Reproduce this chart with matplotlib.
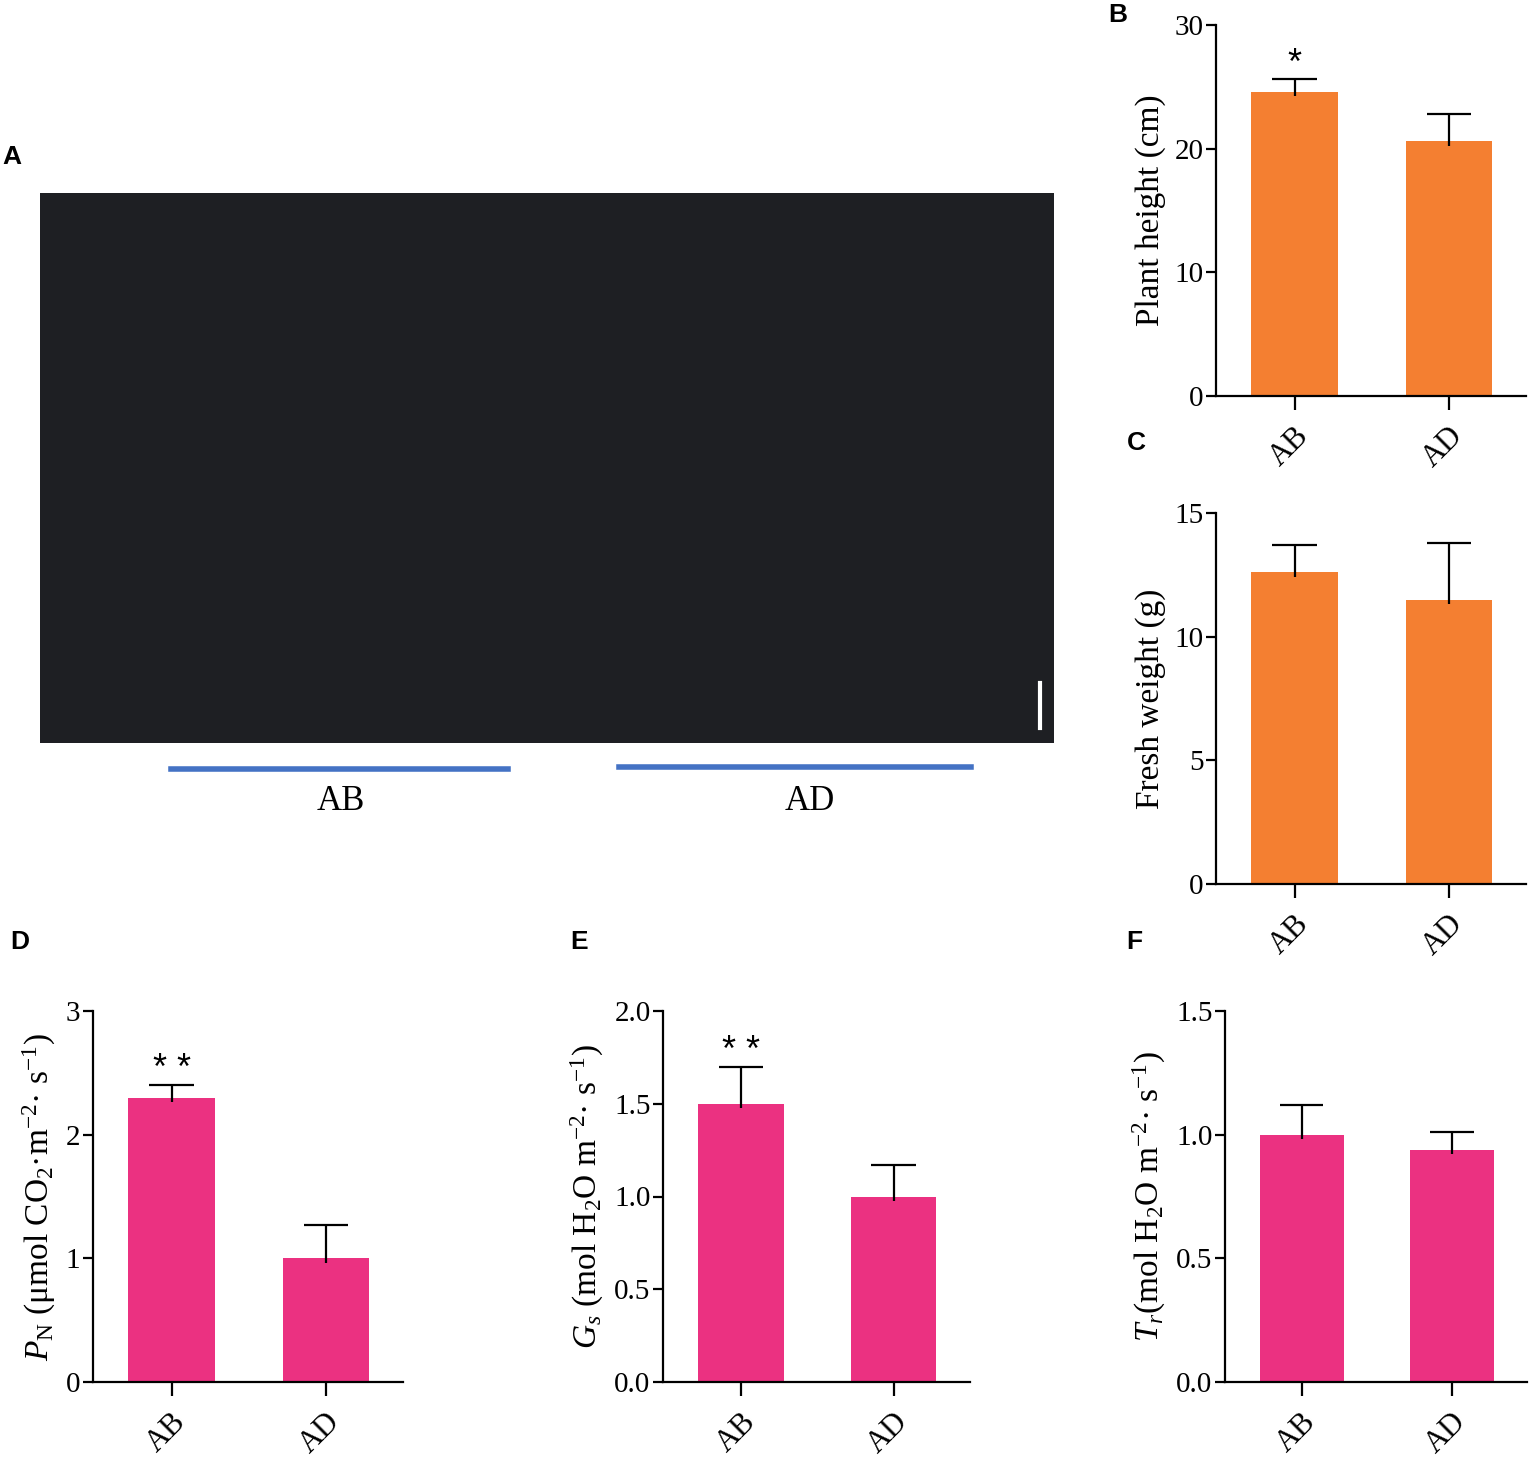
import matplotlib
matplotlib.use('Agg')
import matplotlib.pyplot as plt
from matplotlib.patches import Rectangle
from matplotlib.lines import Line2D
import numpy as np

plt.rcParams['font.family'] = ['Liberation Serif', 'DejaVu Serif']
plt.rcParams['mathtext.fontset'] = 'custom'
plt.rcParams['mathtext.rm'] = 'Liberation Serif'
plt.rcParams['mathtext.it'] = 'Liberation Serif:italic'
plt.rcParams['mathtext.bf'] = 'Liberation Serif:bold'

# data
groups = ['AB', 'AD']

height_mean = [24.6, 20.6]
height_err = [1.0, 2.2]

weight_mean = [12.6, 11.5]
weight_err = [1.1, 2.3]

pn_mean = [2.3, 1.0]
pn_err = [0.1, 0.27]

gs_mean = [1.5, 1.0]
gs_err = [0.2, 0.17]

tr_mean = [1.0, 0.94]
tr_err = [0.12, 0.07]

orange = '#F47F31'
pink = '#EB3181'

W, H = 1530, 1458
fig = plt.figure(figsize=(W / 100, H / 100), dpi=100)


def px_axes(x0, y0, x1, y1):
    # pixel box (top-left origin) -> axes
    return fig.add_axes([x0 / W, 1 - y1 / H, (x1 - x0) / W, (y1 - y0) / H])


def bar_panel(ax, means, errs, color, ymax, yticks, ylabel, stars=None, tickfmt=None):
    xs = np.arange(len(groups))
    tops = np.array(means) + np.array(errs)
    ax.bar(xs, means, width=0.56, color=color, zorder=2)
    # upper-only error bars, no cap at the bar top
    ax.vlines(xs, np.array(means) - ymax * 0.012, tops, color='black', lw=1.6, zorder=3)
    ax.hlines(tops, xs - 0.145, xs + 0.145, color='black', lw=1.6, zorder=3)
    ax.set_xlim(-0.51, 1.5)
    ax.set_ylim(0, ymax)
    ax.set_yticks(yticks)
    if tickfmt:
        ax.set_yticklabels([tickfmt.format(t) for t in yticks])
    ax.set_xticks(xs)
    ax.set_xticklabels(groups, rotation=45, ha='right', va='top',
                       rotation_mode='anchor', fontsize=22)
    for s in ['top', 'right']:
        ax.spines[s].set_visible(False)
    for s in ['left', 'bottom']:
        ax.spines[s].set_linewidth(1.6)
    ax.tick_params(axis='y', direction='out', length=7, width=1.6, labelsize=21, pad=2)
    ax.tick_params(axis='x', direction='out', length=10, width=1.6, pad=8)
    ax.set_ylabel(ylabel, fontsize=24, labelpad=6)
    if stars:
        i, txt = stars
        ax.text(xs[i], tops[i] + ymax * 0.016, txt, ha='center', va='baseline',
                fontsize=26, family='Liberation Sans')


# panel A: photograph placeholder
fig.patches.append(Rectangle((40 / W, 1 - 743 / H), 1014 / W, 550 / H,
                             transform=fig.transFigure, facecolor='#1e1f23',
                             edgecolor='none'))
fig.lines.append(Line2D([1040 / W, 1040 / W], [1 - 683 / H, 1 - 728 / H],
                        transform=fig.transFigure, color='white', lw=3))
fig.lines.append(Line2D([171 / W, 508 / W], [1 - 769 / H, 1 - 769 / H],
                        transform=fig.transFigure, color='#4472C4', lw=4))
fig.lines.append(Line2D([619 / W, 971 / W], [1 - 767 / H, 1 - 767 / H],
                        transform=fig.transFigure, color='#4472C4', lw=4))
fig.text(341 / W, 1 - 802 / H, 'AB', ha='center', va='center', fontsize=25)
fig.text(810 / W, 1 - 802 / H, 'AD', ha='center', va='center', fontsize=25)

# panel B
axB = px_axes(1216, 25, 1526, 396)
bar_panel(axB, height_mean, height_err, orange, 30, [0, 10, 20, 30],
          'Plant height (cm)', stars=(0, '*'))

# panel C
axC = px_axes(1216, 513, 1526, 884)
bar_panel(axC, weight_mean, weight_err, orange, 15, [0, 5, 10, 15],
          'Fresh weight (g)')

# panel D
axD = px_axes(93, 1011, 403, 1382)
bar_panel(axD, pn_mean, pn_err, pink, 3, [0, 1, 2, 3],
          r'$P_{\rm N}$ (μmol CO$_2$·m$^{-2}$· s$^{-1}$)', stars=(0, '* *'))

# panel E
axE = px_axes(663, 1011, 970, 1382)
bar_panel(axE, gs_mean, gs_err, pink, 2.0, [0, 0.5, 1.0, 1.5, 2.0],
          r'$G_s$ (mol H$_2$O m$^{-2}$· s$^{-1}$)', stars=(0, '* *'), tickfmt='{:.1f}')

# panel F
axF = px_axes(1225, 1011, 1527, 1382)
bar_panel(axF, tr_mean, tr_err, pink, 1.5, [0, 0.5, 1.0, 1.5],
          r'$T_r$(mol H$_2$O m$^{-2}$· s$^{-1}$)', tickfmt='{:.1f}')

# panel letters
for lab, x, y in [('A', 12, 157), ('B', 1118, 15), ('C', 1136, 443),
                  ('D', 20, 942), ('E', 579, 942), ('F', 1134, 942)]:
    fig.text(x / W, 1 - y / H, lab, ha='center', va='center', fontsize=19,
             fontweight='bold', family='Liberation Sans')

fig.savefig('out.png', dpi=100)
